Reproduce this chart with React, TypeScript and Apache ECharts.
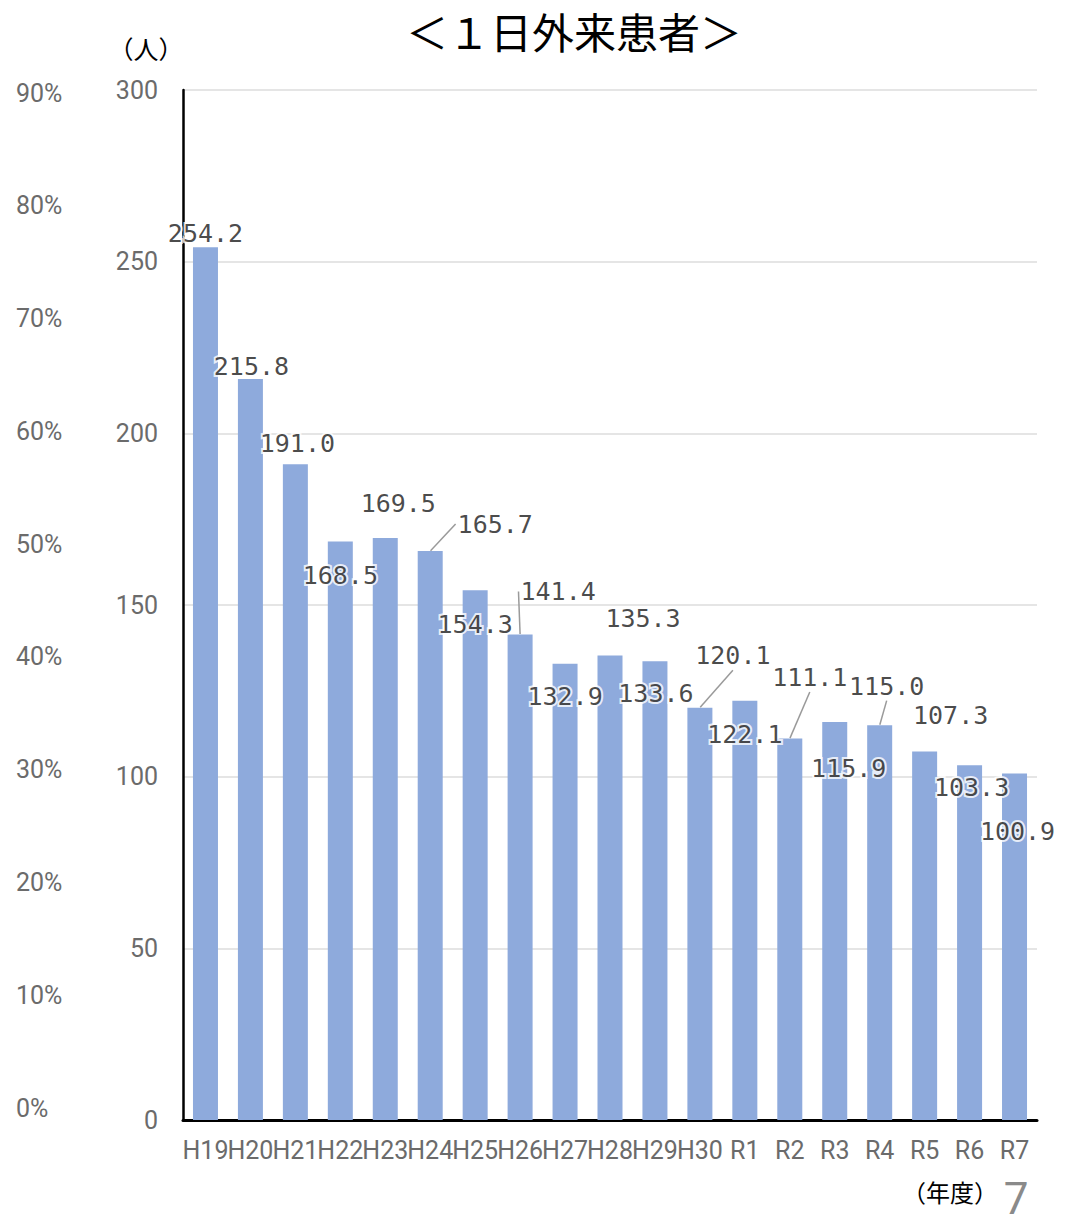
import React, { useEffect, useRef } from "react";
import * as echarts from "echarts";

const categories = ["H19","H20","H21","H22","H23","H24","H25","H26","H27","H28","H29","H30","R1","R2","R3","R4","R5","R6","R7"];
const patients = [254.2,215.8,191.0,168.5,169.5,165.7,154.3,141.4,132.9,135.3,133.6,120.1,122.1,111.1,115.9,115.0,107.3,103.3,100.9];
const pctTicks = [0,10,20,30,40,50,60,70,80,90];
// label displacement from bar top (layout only)
const labelOffsets: [number, number][] = [
  [0,-14],[1,-13],[2,-21],[0,34],[13,-35],[65,-27],[0,34],[38,-43],[0,33],[33,-37],
  [1,32],[33,-52],[0,34],[20,-61],[14,46],[7,-39],[26,-36],[2,22],[3,58],
];
const leaderLines = [false,false,false,false,false,true,false,true,false,false,false,true,false,true,false,true,false,false,false];

export default function App() {
  const ref = useRef<HTMLDivElement>(null);
  useEffect(() => {
    const chart = echarts.init(ref.current!, null, { renderer: "svg" });
    const axisFont = { fontFamily: "Roboto", fontSize: 25, color: "#6b6b6b" };
    chart.setOption({
      animation: false,
      backgroundColor: "#fff",
      grid: [
        { left: 183, right: 36, top: 90, bottom: 104 },
        { left: 183, right: 36, top: 93, bottom: 116 },
      ],
      xAxis: [
        {
          type: "category",
          data: categories,
          gridIndex: 0,
          axisLine: { show: true, lineStyle: { color: "#000", width: 3 } },
          axisTick: { show: false },
          axisLabel: { ...axisFont, interval: 0, margin: 18 },
        },
        { type: "category", data: [""], gridIndex: 1, show: false },
      ],
      yAxis: [
        {
          type: "value",
          gridIndex: 0,
          min: 0,
          max: 300,
          interval: 50,
          axisLine: { show: true, lineStyle: { color: "#000", width: 2.5 } },
          axisTick: { show: false },
          axisLabel: { ...axisFont, margin: 25 },
          splitLine: { show: true, lineStyle: { color: "#dcdcdc", width: 1.5 } },
        },
        {
          type: "value",
          gridIndex: 1,
          min: pctTicks[0],
          max: pctTicks[pctTicks.length - 1],
          interval: 10,
          axisLine: { show: false },
          axisTick: { show: false },
          splitLine: { show: false },
          axisLabel: { ...axisFont, align: "left", margin: 167, formatter: "{value}%" },
        },
      ],
      series: [
        {
          type: "bar",
          data: patients,
          barWidth: 25,
          itemStyle: { color: "#8eaadc" },
          xAxisIndex: 0,
          yAxisIndex: 0,
          z: 2,
        },
        {
          type: "scatter",
          xAxisIndex: 0,
          yAxisIndex: 0,
          symbolSize: 1,
          itemStyle: { color: "rgba(0,0,0,0)" },
          z: 5,
          data: patients.map((v, i) => ({
            value: v,
            labelLine: { show: leaderLines[i] },
          })),
          label: {
            show: true,
            position: "inside",
            formatter: (p: any) => Number(p.value).toFixed(1),
            fontFamily: "DejaVu Sans Mono",
            fontSize: 25,
            color: "#1a1a1a",
            textBorderColor: "#fff",
            textBorderWidth: 4,
          },
          labelLine: { show: false, lineStyle: { color: "#9a9a9a", width: 1.5 } },
          labelLayout: (params: any) => ({
            dx: labelOffsets[params.dataIndex][0],
            dy: labelOffsets[params.dataIndex][1],
          }),
        },
        { type: "line", data: [], xAxisIndex: 1, yAxisIndex: 1 },
      ],
      graphic: [
        {
          type: "text",
          x: 574,
          y: 30,
          style: {
            text: "＜１日外来患者＞",
            fontFamily: "Noto Sans CJK JP",
            fontSize: 42,
            fill: "#000",
            align: "center",
            verticalAlign: "middle",
          },
        },
        {
          type: "text",
          x: 146,
          y: 48,
          style: {
            text: "（人）",
            fontFamily: "Noto Sans CJK JP",
            fontSize: 25,
            fill: "#000",
            align: "center",
            verticalAlign: "middle",
          },
        },
        {
          type: "text",
          x: 950,
          y: 1191,
          style: {
            text: "（年度）",
            fontFamily: "Noto Sans CJK JP",
            fontSize: 24,
            fill: "#000",
            align: "center",
            verticalAlign: "middle",
          },
        },
        {
          type: "text",
          x: 1016,
          y: 1199,
          style: {
            text: "7",
            fontFamily: "Roboto",
            fontSize: 44,
            fill: "#8a8a8a",
            align: "center",
            verticalAlign: "middle",
          },
        },
      ],
    });
    return () => chart.dispose();
  }, []);
  return <div ref={ref} style={{ width: 1073, height: 1224, margin: -8 }} />;
}
